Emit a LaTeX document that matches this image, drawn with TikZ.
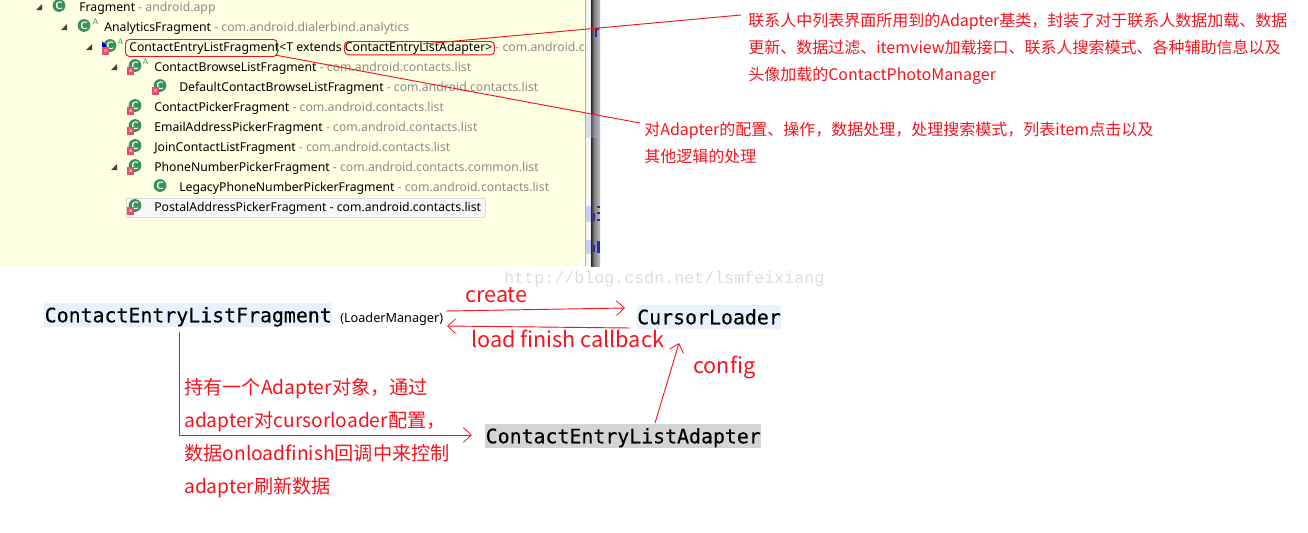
\documentclass[tikz,border=0pt]{standalone}
\usepackage{fontspec}
\setmainfont{Noto Sans CJK SC}
\newfontfamily\treefont{Noto Sans}
\newfontfamily\codefont[FakeBold=0.35]{DejaVu Sans Mono}
\newfontfamily\wmfont{Liberation Mono}
\usetikzlibrary{arrows.meta,shapes.geometric}
\definecolor{paneyellow}{HTML}{FFFFE1}
\definecolor{redink}{HTML}{F5141E}
\definecolor{pkggray}{HTML}{8C8C8C}
\definecolor{ballgreen}{HTML}{35935A}
\definecolor{badgered}{HTML}{E8506A}
\definecolor{codeblue}{HTML}{E8F2FE}
\definecolor{bleedblue}{HTML}{2A2AB0}
\tikzset{
  treetext/.style={anchor=base west,inner sep=0pt,font=\treefont\fontsize{9.18pt}{11pt}\selectfont,text=black},
  redbig/.style={anchor=base west,inner sep=0pt,text=redink,font=\fontsize{16.2pt}{18pt}\selectfont},
  redmid/.style={anchor=base west,inner sep=0pt,text=redink,font=\fontsize{14.4pt}{16pt}\selectfont},
  redsmall/.style={anchor=base west,inner sep=0pt,text=redink,font=\fontsize{12pt}{14pt}\selectfont},
  codebox/.style={inner sep=0pt,anchor=north west,text height=13pt,text depth=2.5pt,font=\codefont\fontsize{14.9pt}{18pt}\selectfont,text=black},
  ball/.style={circle,fill=ballgreen,inner sep=0pt,minimum size=9.6pt,text=white,font=\sffamily\bfseries\fontsize{8pt}{8pt}\selectfont},
  badge/.style={fill=badgered,inner sep=0pt,minimum size=5.5pt,text=white,font=\sffamily\bfseries\fontsize{4.5pt}{5pt}\selectfont},
  absmark/.style={inner sep=0pt,text=ballgreen,font=\sffamily\fontsize{6pt}{6pt}\selectfont},
  thinred/.style={draw=redink,line width=.7pt},
  redarrow/.style={thinred,-{Straight Barb[length=6pt,width=11pt,line width=.6pt]}},
  ring/.style={draw=redink,line width=.7pt,rounded corners=3pt,fill=none,inner sep=0pt,anchor=north west}
}
\newcommand{\classicon}[3]{\node[ball] (#1) at (#2,#3) {C};}
\newcommand{\errbadge}[3]{\node[badge] (#1) at (#2,#3) {x};}
\newcommand{\treerow}[5]{\node[treetext] (#1) at (#2,#3) {#4 \textcolor{pkggray}{- #5}};}
\newcommand{\twisty}[2]{\fill[black!75] (#1+3,#2+3) -- (#1-3,#2+3) -- (#1+3,#2-3) -- cycle;}
\begin{document}
\begin{tikzpicture}[x=.75pt,y=-.75pt]
\useasboundingbox (0,0) rectangle (1308,532);
\fill[white] (0,0) rectangle (1308,532);
% pane
\fill[paneyellow] (0,0) rectangle (585,266);
\fill[black!30] (585,0) rectangle (586,266);
\fill[black!4] (586,0) rectangle (591,266);
\shade[left color=black!85,right color=black!50] (591,0) rectangle (594,266);
\shade[left color=black!50,right color=black!25] (594,0) rectangle (600,266);
\fill[blue!40!black!30,opacity=.35] (586,115) rectangle (600,138);
\fill[blue!30,opacity=.6] (586,206) rectangle (591,222);
\fill[blue!30,opacity=.6] (586,240) rectangle (591,254);
\fill[bleedblue] (595,28) rectangle (596.5,37);
\fill[bleedblue] (596.5,28) rectangle (599,30);
\fill[bleedblue] (593,213) rectangle (595,221);
\fill[bleedblue] (597,206) rectangle (600,208);
\fill[bleedblue] (597,212) rectangle (600,214);
\fill[bleedblue] (597,219) rectangle (600,221);
\fill[bleedblue] (593,245) rectangle (595,252);
\fill[bleedblue] (597,241) rectangle (600,253);
% tree twisties
\twisty{39}{7}
\twisty{64}{27}
\twisty{89}{47}
\twisty{114}{67}
\twisty{114}{167}
% selection
\node[draw=black!22,fill=black!3,rounded corners=1pt,minimum width=269.25pt,minimum height=14.25pt,inner sep=0pt,anchor=north west] (sel) at (126,198) {};
% icons
\classicon{i0}{59}{5.5}
\classicon{i1}{84}{25.5}
\classicon{i2}{110}{45.5}
\classicon{i3}{135}{65.5}
\classicon{i4}{160}{85.5}
\classicon{i5}{135}{105.5}
\classicon{i6}{135}{125.5}
\classicon{i7}{135}{145.5}
\classicon{i8}{135}{165.5}
\classicon{i9}{160}{185.5}
\classicon{i10}{135}{205.5}
\fill[blue!70!black] (102,41) -- (107,46) -- (102,49) -- cycle;
\errbadge{b2}{105.5}{51}
\errbadge{b3}{130.5}{71}
\errbadge{b4}{155.5}{91}
\errbadge{b5}{130.5}{111}
\errbadge{b6}{130.5}{131}
\errbadge{b7}{130.5}{151}
\errbadge{b8}{130.5}{171}
\errbadge{b10}{130.5}{211}
\node[absmark] (a1) at (95.5,22) {A};
\node[absmark] (a2) at (120.5,42) {A};
\node[absmark] (a3) at (145.5,62) {A};
% tree text
\treerow{r0}{79}{11}{Fragment}{android.app}
\treerow{r1}{104}{31}{AnalyticsFragment}{com.android.dialerbind.analytics}
\begin{scope}
\clip (0,0) rectangle (585,266);
\node[treetext] (r2) at (129,51) {ContactEntryListFragment<T extends ContactEntryListAdapter> \textcolor{pkggray}{- com.android.contacts.list}};
\end{scope}
\treerow{r3}{154}{71}{ContactBrowseListFragment}{com.android.contacts.list}
\treerow{r4}{179}{91}{DefaultContactBrowseListFragment}{com.android.contacts.list}
\treerow{r5}{154}{111}{ContactPickerFragment}{com.android.contacts.list}
\treerow{r6}{154}{131}{EmailAddressPickerFragment}{com.android.contacts.list}
\treerow{r7}{154}{151}{JoinContactListFragment}{com.android.contacts.list}
\treerow{r8}{154}{171}{PhoneNumberPickerFragment}{com.android.contacts.common.list}
\treerow{r9}{179}{191}{LegacyPhoneNumberPickerFragment}{com.android.contacts.list}
\node[treetext] (r10) at (154,211) {PostalAddressPickerFragment - com.android.contacts.list};
% rings
\node[ring,minimum width=114pt,minimum height=12.75pt] (ringa) at (125,39) {};
\node[ring,minimum width=112.5pt,minimum height=10pt] (ringb) at (344,41) {};
% callouts
\node[redsmall] (note1a) at (748,26) {联系人中列表界面所用到的Adapter基类，封装了对于联系人数据加载、数据};
\node[redsmall] (note1b) at (748,53) {更新、数据过滤、itemview加载接口、联系人搜索模式、各种辅助信息以及};
\node[redsmall] (note1c) at (748,80) {头像加载的ContactPhotoManager};
\node[redsmall] (note2a) at (644,135) {对Adapter的配置、操作，数据处理，处理搜索模式，列表item点击以及};
\node[redsmall] (note2b) at (644,162) {其他逻辑的处理};
\coordinate (c1s) at (423,44);
\coordinate (c1e) at (741,15);
\coordinate (c2s) at (275,55);
\coordinate (c2e) at (640,123);
\draw[thinred] (c1s) -- (c1e);
\draw[thinred] (c2s) -- (c2e);
% watermark
\node[anchor=base west,inner sep=0pt,text=black!13,font=\wmfont\fontsize{12.5pt}{14pt}\selectfont] (wm) at (504,283) {http://blog.csdn.net/lsmfeixiang};
% lower diagram
\node[codebox,fill=codeblue,minimum width=216pt,minimum height=18pt] (frag) at (44,303) {ContactEntryListFragment};
\node[anchor=base west,inner sep=0pt,font=\treefont\fontsize{9.5pt}{11pt}\selectfont] (lm) at (340,322) {(LoaderManager)};
\node[codebox,fill=codeblue,minimum width=107pt,minimum height=18pt] (loader) at (637,305) {CursorLoader};
\node[codebox,fill=black!17,minimum width=207pt,minimum height=18pt] (adapter) at (485,424) {ContactEntryListAdapter};
\coordinate (a1s) at (446,311);
\coordinate (a1e) at (625,308);
\coordinate (a2s) at (630,328);
\coordinate (a2e) at (447,326);
\coordinate (a3s) at (179.5,332);
\coordinate (a3m) at (179.5,435);
\coordinate (a3e) at (472,435);
\coordinate (a4s) at (655,423);
\coordinate (a4e) at (679,343);
\draw[redarrow] (a1s) -- (a1e);
\draw[redarrow] (a2s) -- (a2e);
\draw[redarrow] (a3s) -- (a3m) -- (a3e);
\draw[redarrow] (a4s) -- (a4e);
\node[redbig] (lcreate) at (465,302) {create};
\node[redbig] (lload) at (471,347) {load finish callback};
\node[redbig] (lconfig) at (693,373) {config};
\node[redmid] (h1) at (184,394) {持有一个Adapter对象，通过};
\node[redmid] (h2) at (184,427) {adapter对cursorloader配置，};
\node[redmid] (h3) at (184,460) {数据onloadfinish回调中来控制};
\node[redmid] (h4) at (184,493) {adapter刷新数据};
\end{tikzpicture}
\end{document}
